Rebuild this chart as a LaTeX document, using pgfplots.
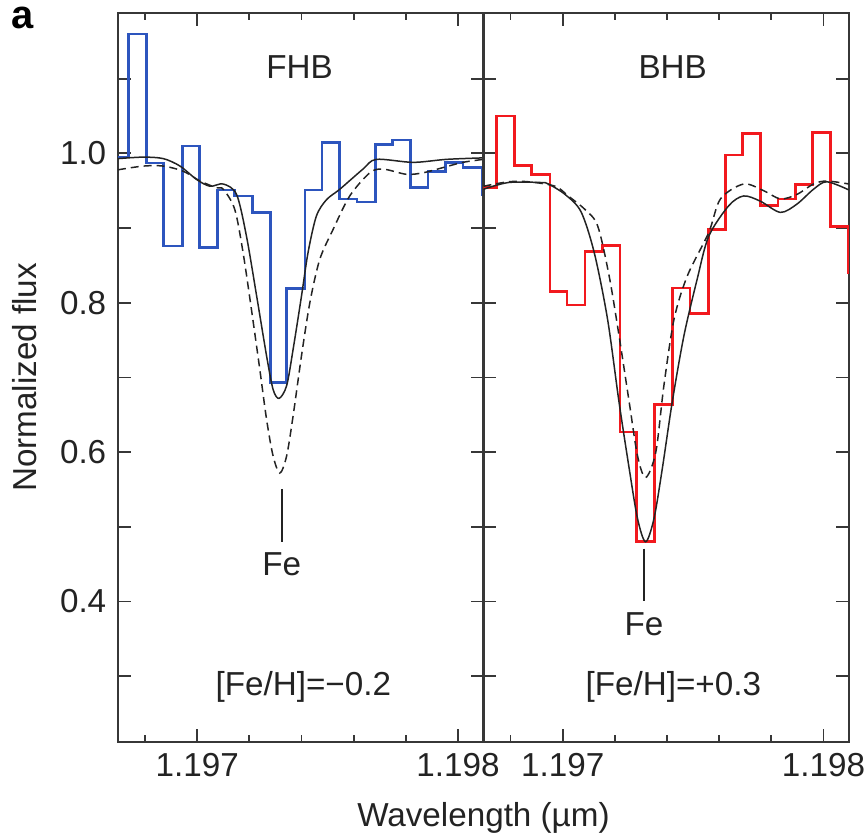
\documentclass[border=0pt]{standalone}
\usepackage{fontspec}
\setmainfont{Liberation Sans}
\usepackage{pgfplots}
\pgfplotsset{compat=1.18}

% x is wavelength offset from 1.197 um, in units of 1e-4 um (Angstrom)
\definecolor{fhbblue}{RGB}{45,85,190}
\definecolor{bhbred}{RGB}{242,25,30}
\definecolor{frame}{RGB}{55,55,55}
\definecolor{ink}{RGB}{35,35,35}

\tikzset{note/.style={font=\fontsize{10}{12}\selectfont, text=ink}}
\pgfplotsset{
  panel/.style={
    scale only axis, width=110pt, height=219.4pt,
    xmin=-3.04, xmax=10.98, ymin=0.212, ymax=1.188,
    xtick={0,10}, xticklabels={1.197,1.198},
    minor xtick={-2,2,4,6,8},
    ytick={0.3,0.4,0.5,0.6,0.7,0.8,0.9,1.0,1.1},
    tick align=inside, xtick pos=both, ytick pos=both,
    major tick length=3.8pt, minor tick length=2.2pt,
    axis line style={frame, line width=0.65pt},
    every tick/.style={frame, line width=0.55pt},
    tick label style={font=\fontsize{10}{12}\selectfont, text=ink},
    xticklabel style={inner xsep=0pt},
    label style={font=\fontsize{10}{12}\selectfont, text=ink},
    clip mode=individual,
  },
  model/.style={ink, line width=0.45pt, smooth, tension=0.5, no markers},
  fit/.style={model, dash pattern=on 2.4pt off 1.5pt},
  hist/.style={const plot, line width=0.8pt, no markers},
}

\begin{document}
\begin{tikzpicture}
\begin{axis}[panel,
  yticklabels={,0.4,,0.6,,0.8,,1.0,},
  ylabel={Normalized flux}]
\addplot[hist, fhbblue] coordinates {
(-3.04,0.995) (-2.64,1.160) (-1.94,0.987) (-1.30,0.876) (-0.56,1.010)
(0.08,0.874) (0.77,0.951) (1.44,0.943) (2.12,0.921) (2.81,0.693)
(3.42,0.819) (4.13,0.951) (4.79,1.015) (5.47,0.939) (6.13,0.935)
(6.83,1.012) (7.49,1.018) (8.19,0.954) (8.85,0.976) (9.53,0.988)
(10.19,0.981) (10.93,0.945) (10.98,0.945)
};
\addplot[model] coordinates {
(-3.04,0.993) (-2.07,0.995) (-1.30,0.993) (-0.66,0.983) (-0.02,0.965)
(0.49,0.956) (1.00,0.959) (1.51,0.945) (1.89,0.889) (2.28,0.809)
(2.66,0.729) (2.91,0.684) (3.14,0.672) (3.43,0.689) (3.68,0.738)
(4.00,0.809) (4.25,0.867) (4.57,0.916) (4.96,0.938) (5.47,0.952)
(6.36,0.979) (6.87,0.992) (8.28,0.988) (9.56,0.992) (10.98,0.994)
};
\addplot[fit] coordinates {
(-3.04,0.978) (-2.07,0.983) (-1.30,0.983) (-0.53,0.976) (0.11,0.963)
(0.74,0.954) (1.00,0.952) (1.44,0.925) (1.76,0.867) (2.08,0.791)
(2.40,0.711) (2.66,0.644) (2.91,0.595) (3.17,0.572) (3.43,0.595)
(3.68,0.649) (4.00,0.729) (4.32,0.800) (4.70,0.858) (5.21,0.898)
(5.85,0.943) (6.62,0.974) (7.13,0.979) (8.02,0.972) (8.66,0.974)
(9.43,0.981) (10.19,0.988) (10.98,0.992)
};
\addplot[ink, line width=0.6pt, no markers] coordinates {(3.24,0.551) (3.24,0.480)};
\node[note] at (axis cs:3.93,1.115) {FHB};
\node[note] at (axis cs:3.24,0.450) {Fe};
\node[note] at (axis cs:4.07,0.286) {[Fe/H]=−0.2};
\node[font=\bfseries\fontsize{12}{14}\selectfont, text=black, inner sep=0pt] at (rel axis cs:-0.262,0.993) {a};
\end{axis}

\begin{axis}[panel, at={(110pt,0pt)},
  yticklabels={,,,,,,,,},
  xlabel={Wavelength (µm)},
  xlabel style={at={(ticklabel cs:0)}, anchor=north, inner sep=0pt, yshift=-4pt}]
\addplot[hist, bhbred] coordinates {
(-3.04,0.954) (-2.55,1.050) (-1.85,0.984) (-1.19,0.972) (-0.49,0.815)
(0.16,0.797) (0.85,0.869) (1.53,0.877) (2.20,0.627) (2.84,0.480)
(3.53,0.664) (4.20,0.820) (4.88,0.786) (5.58,0.898) (6.24,0.998)
(6.90,1.027) (7.58,0.930) (8.26,0.939) (8.92,0.958) (9.59,1.028)
(10.26,0.902) (10.96,0.840) (10.98,0.840)
};
\addplot[model] coordinates {
(-3.04,0.952) (-2.08,0.961) (-0.84,0.961) (-0.55,0.959) (0.09,0.945)
(0.70,0.922) (1.21,0.867) (1.72,0.778) (2.16,0.667) (2.55,0.578)
(2.87,0.511) (3.18,0.480) (3.50,0.511) (3.82,0.578) (4.20,0.667)
(4.65,0.756) (5.16,0.832) (5.60,0.889) (6.37,0.930) (6.94,0.943)
(7.58,0.936) (8.35,0.921) (8.98,0.932) (9.62,0.952) (10.13,0.962)
(10.98,0.951)
};
\addplot[fit] coordinates {
(-3.04,0.956) (-2.08,0.962) (-1.31,0.962) (-0.29,0.956) (0.21,0.943)
(0.85,0.925) (1.34,0.903) (1.78,0.836) (2.16,0.756) (2.55,0.667)
(2.87,0.595) (3.18,0.566) (3.57,0.600) (3.88,0.689) (4.27,0.778)
(4.78,0.836) (5.60,0.894) (6.05,0.939) (6.94,0.959) (7.71,0.950)
(8.35,0.939) (8.98,0.945) (9.62,0.959) (10.13,0.963) (10.98,0.959)
};
\addplot[ink, line width=0.6pt, no markers] coordinates {(3.12,0.471) (3.12,0.401)};
\node[note] at (axis cs:4.22,1.115) {BHB};
\node[note] at (axis cs:3.12,0.370) {Fe};
\node[note] at (axis cs:4.24,0.286) {[Fe/H]=+0.3};
\end{axis}
\path (-35.5pt,-28pt) rectangle (224.5pt,223.3pt);
\end{tikzpicture}
\end{document}
